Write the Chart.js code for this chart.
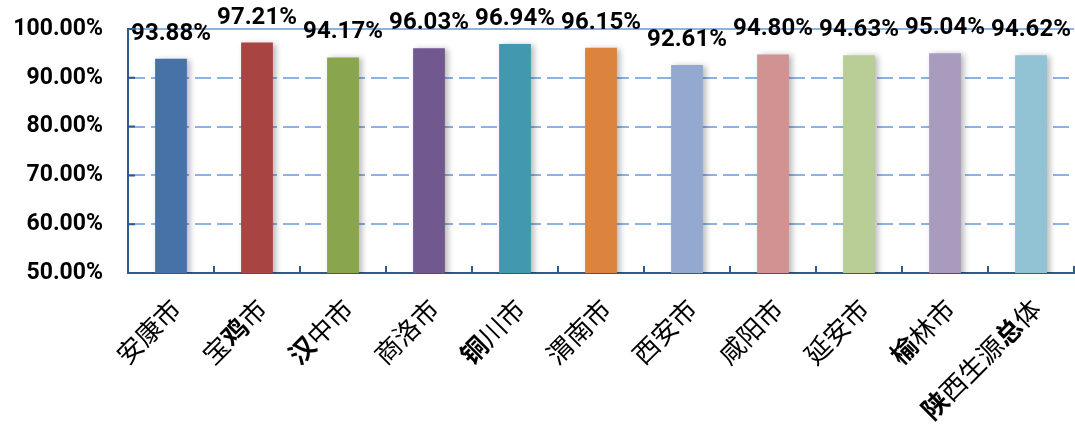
<!DOCTYPE html>
<html>
<head>
<meta charset="utf-8">
<script src="https://cdn.jsdelivr.net/npm/chart.js@4.4.1/dist/chart.umd.min.js"></script>
<style>
  html, body { margin: 0; padding: 0; background: #fff; }
  #wrap { width: 1075px; height: 430px; }
</style>
</head>
<body>
<div id="wrap"><canvas id="rateChart"></canvas></div>
<script>
const cities = ["安康市", "宝鸡市", "汉中市", "商洛市", "铜川市", "渭南市", "西安市", "咸阳市", "延安市", "榆林市", "陕西生源总体"];
const rates = [93.88, 97.21, 94.17, 96.03, 96.94, 96.15, 92.61, 94.80, 94.63, 95.04, 94.62];
const barColors = ["#4672A8", "#A84543", "#89A54E", "#71588F", "#4198AF", "#DB843D", "#93A9CF", "#D19392", "#B9CD96", "#A99BBD", "#92C3D4"];
const yMin = 50;
const yMax = 100;
const yStep = 10;
// characters the original renders in a heavier face
const boldChars = "鸡汉铜榆陕总";

const AXIS_BLUE = "#2E5A8C";
const GRID_BLUE = "#8DB3E2";
const numFont = 'Roboto, "Liberation Sans", sans-serif';
const cjkFont = '"Noto Sans CJK SC", sans-serif';

const barShadow = {
  id: "barShadow",
  beforeDatasetsDraw(chart) {
    const ctx = chart.ctx;
    ctx.save();
    ctx.shadowColor = "rgba(0, 0, 0, 0.28)";
    ctx.shadowBlur = 6;
    ctx.shadowOffsetX = 3;
    ctx.shadowOffsetY = 1;
  },
  afterDatasetsDraw(chart) {
    chart.ctx.restore();
  }
};

const valueLabels = {
  id: "valueLabels",
  afterDatasetsDraw(chart) {
    const ctx = chart.ctx;
    const meta = chart.getDatasetMeta(0);
    ctx.save();
    ctx.font = `bold 24px ${numFont}`;
    ctx.fillStyle = "#000";
    ctx.textAlign = "center";
    ctx.textBaseline = "middle";
    meta.data.forEach((bar, i) => {
      ctx.fillText(rates[i].toFixed(2) + "%", bar.x, bar.y - 25);
    });
    ctx.restore();
  }
};

const axisDecor = {
  id: "axisDecor",
  afterDraw(chart) {
    const ctx = chart.ctx;
    const area = chart.chartArea;
    const xs = chart.scales.x;
    const ys = chart.scales.y;
    ctx.save();

    // inner tick marks
    ctx.strokeStyle = AXIS_BLUE;
    ctx.lineWidth = 2;
    ctx.beginPath();
    for (let v = yMin; v <= yMax; v += yStep) {
      const y = ys.getPixelForValue(v);
      ctx.moveTo(area.left, y);
      ctx.lineTo(area.left + 7, y);
    }
    const catW = (area.right - area.left) / cities.length;
    for (let i = 1; i <= cities.length; i++) {
      const x = Math.round(area.left + catW * i);
      ctx.moveTo(x, area.bottom);
      ctx.lineTo(x, area.bottom - 7);
    }
    ctx.stroke();

    // rotated category labels
    ctx.fillStyle = "#000";
    ctx.textAlign = "right";
    ctx.textBaseline = "middle";
    cities.forEach((name, i) => {
      const x = xs.getPixelForValue(i);
      ctx.save();
      ctx.translate(x + 5, area.bottom + 31);
      ctx.rotate(-Math.PI / 4);
      let pos = 0;
      for (let k = name.length - 1; k >= 0; k--) {
        const ch = name[k];
        ctx.font = (boldChars.includes(ch) ? "bold " : "") + `26px ${cjkFont}`;
        ctx.fillText(ch, -pos, 0);
        pos += ctx.measureText(ch).width;
      }
      ctx.restore();
    });
    ctx.restore();
  }
};

new Chart(document.getElementById("rateChart"), {
  type: "bar",
  data: {
    labels: cities,
    datasets: [{
      data: rates,
      backgroundColor: barColors,
      borderWidth: 0,
      barPercentage: 0.37,
      categoryPercentage: 1
    }]
  },
  options: {
    responsive: true,
    maintainAspectRatio: false,
    animation: false,
    layout: { padding: { top: 29, right: 1, left: 0, bottom: 0 } },
    plugins: {
      legend: { display: false },
      tooltip: { enabled: false }
    },
    scales: {
      x: {
        ticks: { display: false },
        grid: { display: false },
        border: { display: true, color: AXIS_BLUE, width: 2 },
        afterFit(scale) { scale.height = 157; }
      },
      y: {
        min: yMin,
        max: yMax,
        ticks: {
          stepSize: yStep,
          color: "#000",
          padding: 25,
          font: { family: numFont, size: 23, weight: "bold" },
          callback(value) { return Number(value).toFixed(2) + "%"; }
        },
        grid: {
          color: GRID_BLUE,
          lineWidth: 2,
          drawTicks: false
        },
        border: {
          display: true,
          color: AXIS_BLUE,
          width: 2,
          dash: (ctx) => (ctx.tick && ctx.tick.value === yMax ? [] : [16, 6])
        },
        afterFit(scale) {
          scale.width = 128;
          scale.paddingTop = 0;
          scale.paddingBottom = 0;
        }
      }
    }
  },
  plugins: [barShadow, valueLabels, axisDecor]
});
</script>
</body>
</html>
